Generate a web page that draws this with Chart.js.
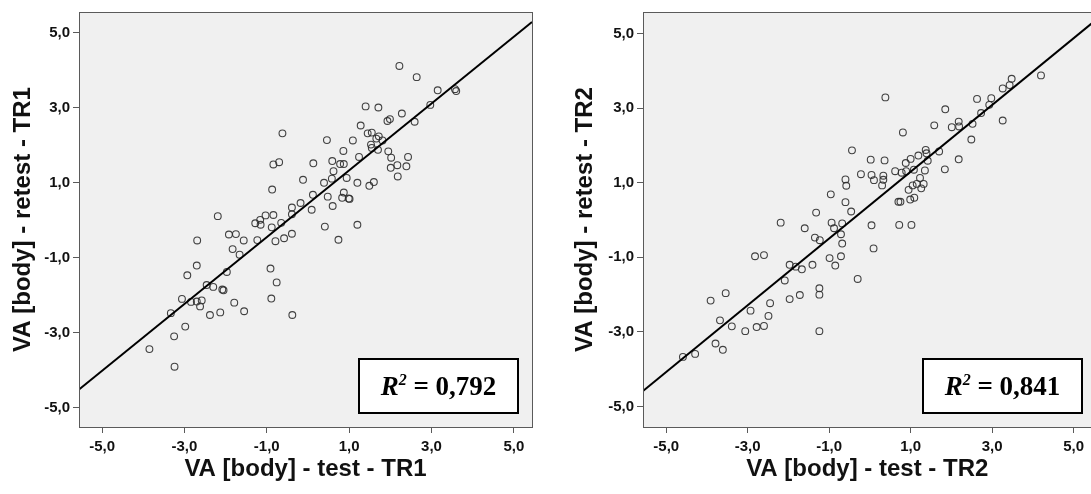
<!DOCTYPE html>
<html><head><meta charset="utf-8">
<script src="https://cdn.jsdelivr.net/npm/chart.js@4"></script>
<style>
html,body{margin:0;padding:0;background:#fff;overflow:hidden;width:1091px;height:494px;}
#w1{position:absolute;left:0;top:0;width:545px;height:494px;}
#w2{position:absolute;left:545px;top:0;width:551px;height:494px;}
</style></head><body>
<div id="w1"><canvas id="c1" width="545" height="494"></canvas></div>
<div id="w2"><canvas id="c2" width="551" height="494"></canvas></div>
<script>
// ---- data: TR1 (test vs retest) ----
const tr1Test = [-0.62,-0.84,-0.70,0.13,-0.12,-0.87,0.12,-2.19,-0.39,-0.18,0.09,-0.39,-0.84,-1.03,-1.16,-1.28,-1.15,-0.88,-0.65,-1.92,-1.75,-1.56,-2.69,-1.23,-0.79,-0.58,-0.39,-1.83,
 -1.66,-2.70,-2.93,-1.97,-0.91,-0.76,-2.46,-2.30,-2.08,-2.05,-3.06,-2.84,-2.70,-2.58,-2.62,-1.79,-0.89,-3.33,-2.38,-2.13,-1.55,-0.38,-2.98,-3.25,-3.85,-3.24,
 2.22,2.64,3.15,3.57,3.60,2.97,1.40,1.71,2.28,2.59,1.93,1.99,1.28,1.45,1.55,1.72,1.66,1.81,0.46,1.09,1.53,1.55,1.70,0.86,1.95,2.02,2.43,1.24,0.59,0.78,0.87,2.17,2.39,2.01,0.62,0.58,0.94,2.18,0.39,1.20,1.60,1.49,0.48,0.87,0.83,0.99,1.01,0.60,0.41,1.20,0.74];
const tr1Retest = [2.32,1.49,1.55,1.52,1.08,0.82,0.68,0.11,0.34,0.46,0.28,0.16,0.14,0.13,0.01,-0.08,-0.12,-0.19,-0.07,-0.38,-0.37,-0.54,-0.54,-0.53,-0.56,-0.48,-0.36,-0.77,
 -0.92,-1.21,-1.47,-1.38,-1.29,-1.66,-1.73,-1.78,-1.85,-1.87,-2.10,-2.18,-2.17,-2.14,-2.30,-2.20,-2.09,-2.48,-2.53,-2.46,-2.43,-2.53,-2.84,-3.10,-3.44,-3.91,
 4.12,3.82,3.47,3.50,3.45,3.08,3.04,3.01,2.85,2.63,2.65,2.70,2.53,2.32,2.34,2.24,2.18,2.13,2.14,2.13,2.02,1.93,1.88,1.85,1.84,1.67,1.69,1.69,1.58,1.50,1.50,1.47,1.44,1.40,1.31,1.11,1.13,1.17,1.00,1.00,1.02,0.92,0.63,0.74,0.60,0.58,0.57,0.38,-0.17,-0.12,-0.52];
// ---- data: TR2 (test vs retest) ----
const tr2Test = [-0.44,-0.60,-0.58,-0.96,-0.60,-0.46,-1.32,-2.19,-1.60,-0.94,-0.88,-0.68,-0.71,-1.35,-1.23,-0.68,
 -2.82,-2.60,-0.99,-0.71,-0.85,-1.97,-1.82,-1.67,-1.41,-0.30,-2.09,-1.24,-1.24,-3.54,-3.91,-1.97,-1.72,-2.45,-2.93,-2.49,-3.68,-3.39,-2.78,-2.60,-3.06,-1.24,-3.79,-3.61,-4.59,-4.29,
 4.20,3.48,3.43,3.26,0.38,2.63,2.98,2.93,2.73,1.85,3.26,1.58,2.01,2.18,2.19,2.52,0.81,2.49,1.37,1.39,1.70,1.19,1.00,1.42,2.18,0.02,0.36,0.88,0.62,0.78,0.89,1.08,1.35,1.84,-0.22,0.04,0.33,0.10,0.33,0.30,1.23,1.05,1.15,1.32,1.26,0.95,1.09,0.99,0.70,0.75,0.04,0.72,1.02,0.09];
const tr2Retest = [1.87,1.09,0.92,0.69,0.48,0.23,0.20,-0.07,-0.22,-0.07,-0.22,-0.09,-0.38,-0.47,-0.54,-0.63,
 -0.97,-0.94,-1.02,-0.97,-1.22,-1.20,-1.25,-1.32,-1.20,-1.58,-1.62,-1.83,-2.00,-1.96,-2.16,-2.12,-2.01,-2.23,-2.43,-2.57,-2.69,-2.85,-2.87,-2.84,-2.98,-2.98,-3.31,-3.48,-3.67,-3.59,
 3.88,3.79,3.62,3.53,3.29,3.25,3.27,3.09,2.87,2.97,2.67,2.54,2.49,2.64,2.51,2.58,2.35,2.16,1.88,1.79,1.84,1.73,1.64,1.59,1.63,1.62,1.60,1.53,1.31,1.27,1.31,1.35,1.33,1.36,1.23,1.21,1.19,1.07,1.08,0.93,1.13,0.93,0.97,0.97,0.85,0.81,0.60,0.55,0.49,0.49,-0.14,-0.13,-0.13,-0.76];
const tickValues = [-5, -3, -1, 1, 3, 5];
const r2Values = ['0,792', '0,841'];
const xTitles = ['VA [body] - test - TR1', 'VA [body] - test - TR2'];
const yTitles = ['VA [body] - retest - TR1', 'VA [body] - retest - TR2'];

function fit(xs, ys){
  const n = xs.length;
  const mx = xs.reduce((a,b)=>a+b,0)/n, my = ys.reduce((a,b)=>a+b,0)/n;
  let sxy=0, sxx=0;
  for(let i=0;i<n;i++){ sxy += (xs[i]-mx)*(ys[i]-my); sxx += (xs[i]-mx)*(xs[i]-mx); }
  const b = sxy/sxx; return {a: my - b*mx, b};
}

const fmt = v => v.toFixed(1).replace('.', ',');

const framePlugin = {
  id: 'frame',
  beforeDatasetsDraw(chart){
    const {ctx, chartArea:a} = chart;
    ctx.save(); ctx.fillStyle = '#f0f0f0';
    ctx.fillRect(a.left, a.top, a.right-a.left, a.bottom-a.top); ctx.restore();
  },
  afterDraw(chart){
    const {ctx, chartArea:a} = chart;
    ctx.save(); ctx.strokeStyle = '#5a5a5a'; ctx.lineWidth = 1;
    ctx.strokeRect(Math.round(a.left)+0.5, Math.round(a.top)+0.5, Math.round(a.right-a.left), Math.round(a.bottom-a.top));
    // R² box
    const r2 = chart.options.plugins.frame.r2;
    const bx = a.left + 280, by = a.bottom - 68, bw = 159, bh = 54;
    ctx.fillStyle = '#fff'; ctx.fillRect(bx, by, bw, bh);
    ctx.strokeStyle = '#000'; ctx.lineWidth = 2; ctx.strokeRect(bx, by, bw, bh);
    const fBig = 'italic bold 27px "Liberation Serif"', fSup = 'italic bold 16px "Liberation Serif"', fTxt = 'bold 27px "Liberation Serif"';
    const rest = ' = ' + r2;
    ctx.font = fBig; const w1 = ctx.measureText('R').width;
    ctx.font = fSup; const w2 = ctx.measureText('2').width;
    ctx.font = fTxt; const w3 = ctx.measureText(rest).width;
    let x = bx + bw/2 - (w1+w2+w3)/2; const base = by + bh/2 + 9;
    ctx.fillStyle = '#000'; ctx.textBaseline = 'alphabetic'; ctx.textAlign = 'left';
    ctx.font = fBig; ctx.fillText('R', x, base); x += w1;
    ctx.font = fSup; ctx.fillText('2', x, base - 10); x += w2;
    ctx.font = fTxt; ctx.fillText(rest, x, base);
    ctx.restore();
  }
};

function make(id, xs, ys, idx, o){
  const pts = xs.map((x,i)=>({x, y: ys[i]}));
  const f = fit(xs, ys);
  const line = [o.xmin, o.xmax].map(x=>({x, y: f.a + f.b*x}));
  const tickFont = {family:'"Liberation Sans"', size:15, weight:'bold'};
  const titleFont = {family:'"Liberation Sans"', size:24, weight:'bold', lineHeight:1.2};
  return new Chart(document.getElementById(id), {
    type: 'scatter',
    data: { datasets: [
      { type:'line', data: line, borderColor:'#000', borderWidth:2, pointRadius:0, fill:false, tension:0 },
      { data: pts, pointRadius:3.4, pointHoverRadius:3.4, borderColor:'rgba(45,45,45,0.9)', backgroundColor:'rgba(0,0,0,0)', borderWidth:1.1 }
    ]},
    options: {
      responsive:false, animation:false, devicePixelRatio:1,
      layout:{ padding:{ left:0, right:o.padRight, top:10, bottom:0 } },
      plugins:{ legend:{display:false}, tooltip:{enabled:false}, frame:{ r2: r2Values[idx] } },
      scales:{
        x:{ type:'linear', min:o.xmin, max:o.xmax,
          afterBuildTicks: s => { s.ticks = tickValues.map(v=>({value:v})); },
          afterFit: s => { s.height = 67; },
          ticks:{ callback: v => fmt(v), font: tickFont, color:'#111', padding:5, maxRotation:0, autoSkip:false },
          grid:{ drawOnChartArea:false, drawTicks:true, tickLength:6, color:'#5a5a5a' },
          border:{ display:false },
          title:{ display:true, text: xTitles[idx], font: titleFont, color:'#111', padding:{top:0, bottom:10} } },
        y:{ type:'linear', min:o.ymin, max:o.ymax,
          afterBuildTicks: s => { s.ticks = tickValues.map(v=>({value:v})); },
          afterFit: s => { s.width = o.yWidth; },
          ticks:{ callback: v => fmt(v), font: tickFont, color:'#111', padding:3, autoSkip:false },
          grid:{ drawOnChartArea:false, drawTicks:true, tickLength:6, color:'#5a5a5a' },
          border:{ display:false },
          title:{ display:true, text: yTitles[idx], font: titleFont, color:'#111', padding:{top:o.yTitlePad, bottom:0} } }
      }
    },
    plugins:[framePlugin]
  });
}

make('c1', tr1Test, tr1Retest, 0, {xmin:-5.56, xmax:5.44, ymin:-5.52, ymax:5.56, yWidth:79, padRight:13, yTitlePad:9});
make('c2', tr2Test, tr2Retest, 1, {xmin:-5.57, xmax:5.44, ymin:-5.55, ymax:5.58, yWidth:98, padRight:3, yTitlePad:26});
</script>
</body></html>
